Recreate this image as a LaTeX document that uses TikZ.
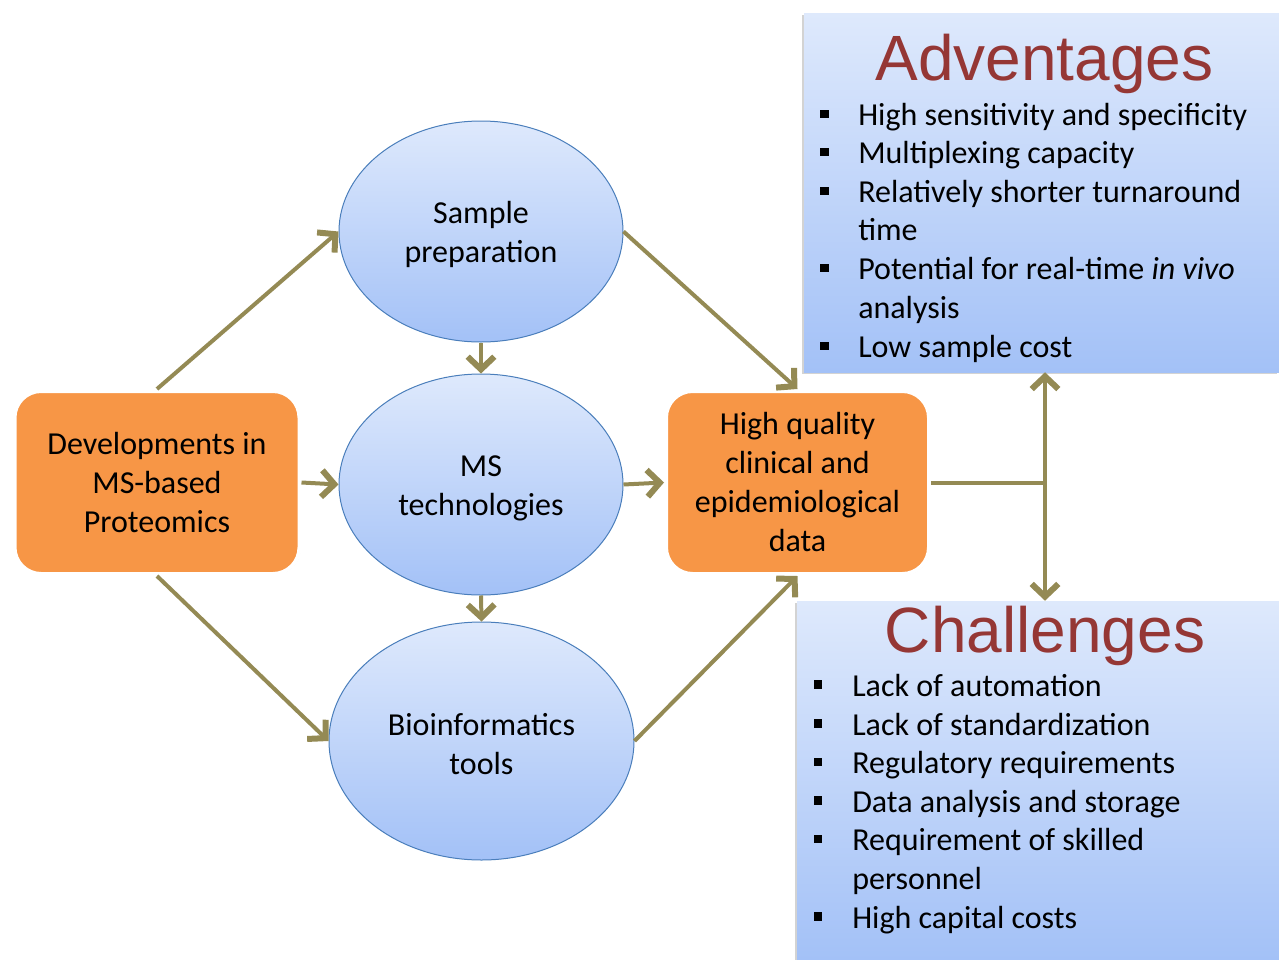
\documentclass[tikz,border=0pt]{standalone}
\usepackage{fontspec}
\setmainfont{Carlito}
\newfontfamily\headfont{Liberation Sans}
\usetikzlibrary{shapes.geometric, arrows.meta, shadows}
\definecolor{orng}{HTML}{F79646}
\definecolor{olv}{HTML}{948A54}
\definecolor{hdred}{HTML}{953735}
\definecolor{elbd}{HTML}{4A7EBB}
\definecolor{lttop}{RGB}{222,233,252}
\definecolor{ltbot}{RGB}{163,193,247}
\newcommand{\txt}{\fontsize{24}{29.25}\selectfont}
\tikzset{el/.style = {ellipse, draw=elbd, line width=0.75pt, top color=lttop, bottom color=ltbot,
                      inner sep=0pt, align=center, font=\txt, text height=50.5pt},
           ob/.style = {rectangle, rounded corners=20pt, draw=white, line width=3pt, fill=orng,
                        minimum width=#1, minimum height=137.25pt, inner sep=0pt, align=center, font=\txt,
                        drop shadow={opacity=0.3, shadow xshift=0.8pt, shadow yshift=-0.8pt}},
           pn/.style = {rectangle, top color=lttop, bottom color=ltbot, inner sep=0pt,
                        drop shadow={opacity=0.35, shadow xshift=-1.2pt, shadow yshift=-1.2pt}},
           hd/.style = {anchor=base, inner sep=0pt, text=hdred, font=\headfont\fontsize{48}{58}\selectfont},
           it/.style = {anchor=base west, inner sep=0pt, font=\txt},
           bu/.style = {rectangle, fill=black, minimum size=6.5pt, inner sep=0pt},
           ln/.style = {line width=3pt, draw=olv}}

\begin{document}
\begin{tikzpicture}[x=0.75pt, y=-0.75pt, >={Straight Barb[length=9.5pt, width=20pt, line width=4.5pt]}]
    \useasboundingbox (0,0) rectangle (1279,960);
    % flow nodes
    \node[ob=213.75pt] (dv) at (157,482.5) {Developments in\\MS-based\\Proteomics};
    \node[el, minimum width=213pt, minimum height=165.75pt] (sp) at (481,231.5) {Sample\\preparation};
    \node[el, minimum width=213pt, minimum height=165.75pt] (ms) at (481,484.5) {MS\\technologies};
    \node[el, minimum width=228.75pt, minimum height=178.5pt] (bt) at (481.5,741) {Bioinformatics\\tools};
    \node[ob=197.25pt] (hq) at (797.5,482.5) {High quality\\clinical and\\epidemiological\\data};
    % side panels
    \node[pn, minimum width=356.25pt, minimum height=269.25pt] (ad) at (1041.5,192.5) {};
    \node[pn, minimum width=361.5pt, minimum height=269.25pt] (ch) at (1038,780.5) {};
    \coordinate (j) at (1045,482.5);

    \node[hd] (adt) at (1044.5,80) {Adventages};
    \node[bu] at (824.5,114) {};
    \node[it] at (858,125) {High sensitivity and specificity};
    \node[bu] at (824.5,152) {};
    \node[it] at (858,163) {Multiplexing capacity};
    \node[bu] at (824.5,191) {};
    \node[it] at (858,202) {Relatively shorter turnaround};
    \node[it] at (858,240.5) {time};
    \node[bu] at (824.5,268) {};
    \node[it] at (858,279) {Potential for real-time \textit{in vivo}};
    \node[it] at (858,318) {analysis};
    \node[bu] at (824.5,346) {};
    \node[it] at (858,357) {Low sample cost};

    \node[hd] (cht) at (1045,652) {Challenges};
    \node[bu] at (818,684.5) {};
    \node[it] at (852,696) {Lack of automation};
    \node[bu] at (818,723.5) {};
    \node[it] at (852,735) {Lack of standardization};
    \node[bu] at (818,762) {};
    \node[it] at (852,773.5) {Regulatory requirements};
    \node[bu] at (818,800.5) {};
    \node[it] at (852,812) {Data analysis and storage};
    \node[bu] at (818,839) {};
    \node[it] at (852,850.5) {Requirement of skilled};
    \node[it] at (852,889) {personnel};
    \node[bu] at (818,916.5) {};
    \node[it] at (852,928) {High capital costs};

    % connectors
    \draw[->, ln] (dv.north) to (sp.west);
    \draw[->, ln] (dv.east) to (ms.west);
    \draw[->, ln] (dv.south) to (bt.west);
    \draw[->, ln] (sp.south) to (ms.north);
    \draw[->, ln] (ms.south) to (bt.north);
    \draw[->, ln] (sp.east) to (hq.north);
    \draw[->, ln] (ms.east) to (hq.west);
    \draw[->, ln] (bt.east) to (hq.south);
    \draw[ln] (hq.east) to (j);
    \draw[->, ln] (j) to (j |- ad.south);
    \draw[->, ln] (j) to (j |- ch.north);
\end{tikzpicture}
\end{document}
